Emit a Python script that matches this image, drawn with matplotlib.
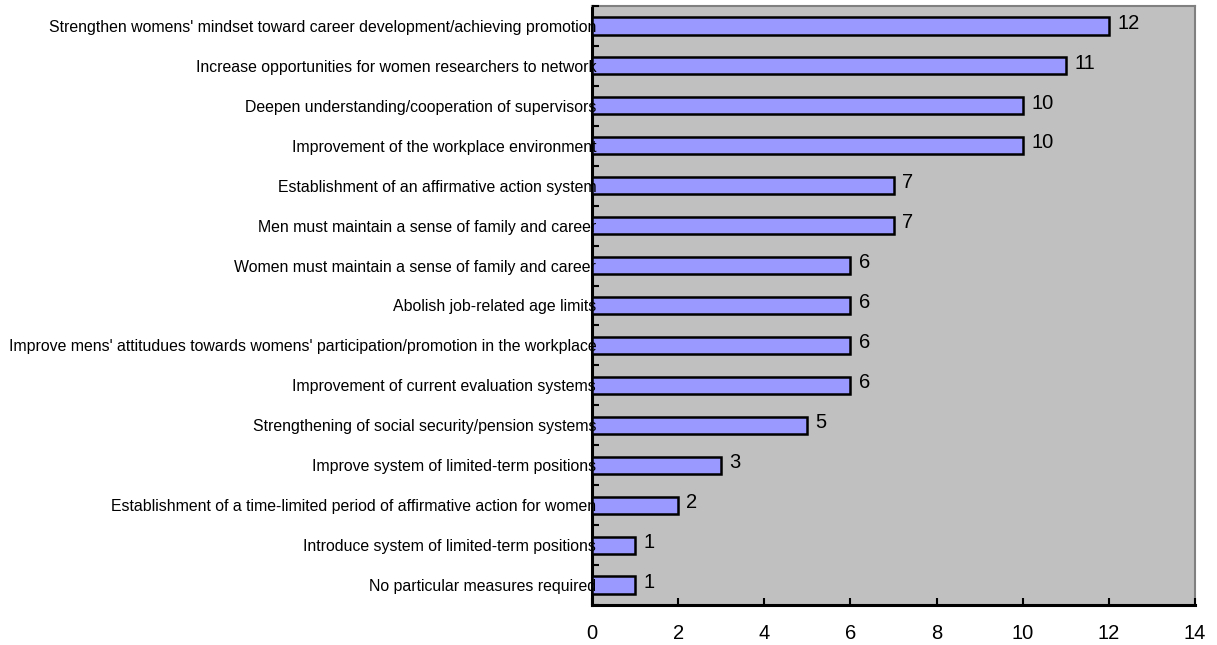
import matplotlib
matplotlib.use("Agg")
import matplotlib.pyplot as plt
from matplotlib.ticker import FixedLocator

categories = [
    "Strengthen womens' mindset toward career development/achieving promotion",
    "Increase opportunities for women researchers to network",
    "Deepen understanding/cooperation of supervisors",
    "Improvement of the workplace environment",
    "Establishment of an affirmative action system",
    "Men must maintain a sense of family and career",
    "Women must maintain a sense of family and career",
    "Abolish job-related age limits",
    "Improve mens' attitudues towards womens' participation/promotion in the workplace",
    "Improvement of current evaluation systems",
    "Strengthening of social security/pension systems",
    "Improve system of limited-term positions",
    "Establishment of a time-limited period of affirmative action for women",
    "Introduce system of limited-term positions",
    "No particular measures required",
]
values = [12, 11, 10, 10, 7, 7, 6, 6, 6, 6, 5, 3, 2, 1, 1]
xticks = [0, 2, 4, 6, 8, 10, 12, 14]

plt.rcParams['font.family'] = ['Liberation Sans', 'DejaVu Sans']

fig = plt.figure(figsize=(12.17, 6.45), dpi=100)
ax = fig.add_axes([592/1217, 40/645, (1195-592)/1217, (605-6)/645])
ax.set_facecolor('#C0C0C0')

n = len(categories)
ypos = list(range(n))
ax.barh(ypos, values, height=0.43, color='#9999FF', edgecolor='black', linewidth=1.8, zorder=3)
for y, v in zip(ypos, values):
    ax.annotate(str(v), (v, y), xytext=(6, 2), textcoords='offset points',
                ha='left', va='center', fontsize=14.5, color='black', zorder=4)

ax.set_xlim(0, 14)
ax.set_ylim(n - 0.5, -0.5)
ax.set_xticks(xticks)
ax.set_xticklabels([str(t) for t in xticks], fontsize=14.5)
ax.set_yticks(ypos)
ax.set_yticklabels(categories, fontsize=11.4)
ax.yaxis.set_minor_locator(FixedLocator([i - 0.5 for i in range(n + 1)]))
ax.tick_params(axis='y', which='major', length=0, pad=-3)
ax.tick_params(axis='y', which='minor', length=5, width=1.5, direction='in', color='black')
ax.tick_params(axis='x', which='major', length=5, width=1.5, direction='in', pad=14)

for s in ['left', 'bottom']:
    ax.spines[s].set_color('black')
    ax.spines[s].set_linewidth(2.2)
for s in ['top', 'right']:
    ax.spines[s].set_color('#808080')
    ax.spines[s].set_linewidth(1.5)
ax.yaxis.set_zorder(5)
ax.xaxis.set_zorder(5)

fig.savefig('out.png', dpi=100)
